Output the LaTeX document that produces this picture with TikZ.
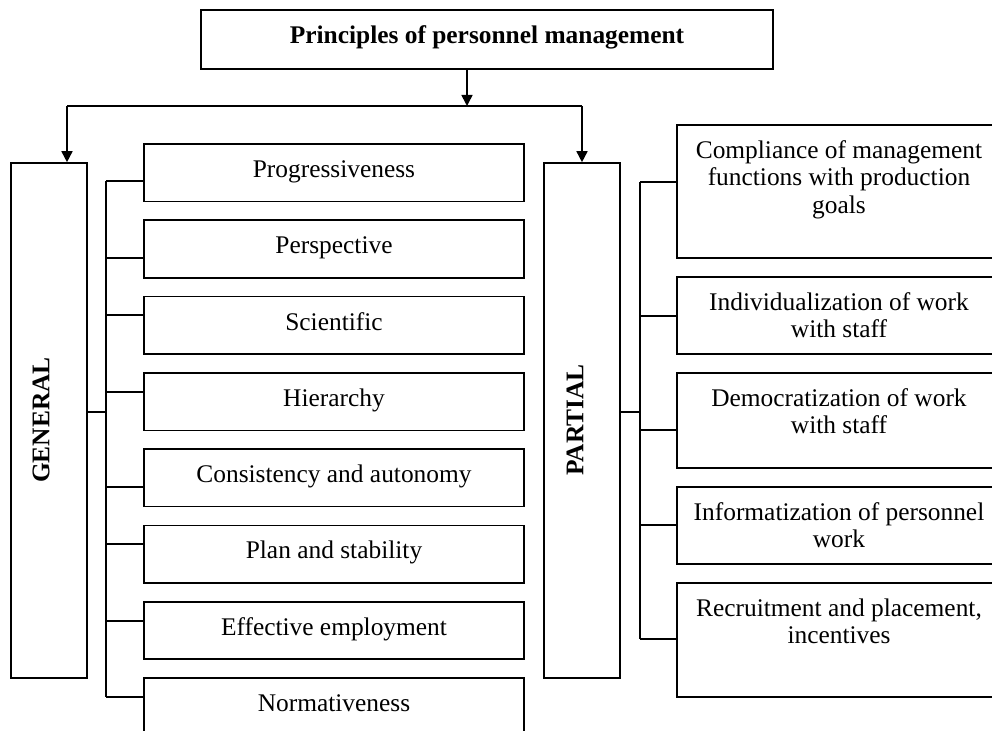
\documentclass[tikz,border=0pt]{standalone}
\usepackage{fontspec}
\setmainfont{Liberation Serif}
\usetikzlibrary{arrows.meta,fit}
\newcommand\fsz{\fontsize{12.7pt}{13.8pt}\selectfont}
\begin{document}
\begin{tikzpicture}[x=0.5pt,y=-0.5pt,
  box/.style={draw, line width=0.8pt, inner sep=0pt},
  lbl/.style={anchor=north, inner sep=0pt, align=center, font=\fsz},
  ln/.style={line width=0.8pt},
  arr/.style={line width=0.8pt, -{Triangle[length=5.5pt,width=5.5pt]}}]
\clip (0,0) rectangle (992,731);
% top
\node[box, fit={(201,10)(773,69)}] (top) {};
\node[font=\fsz\bfseries, anchor=base, inner sep=0pt] (title) at (487,44) {Principles of personnel management};
\coordinate (split) at (467,106);
\coordinate (lsplit) at (67,106);
\coordinate (rsplit) at (582,106);
% category boxes
\node[box, fit={(11,163)(87,678)}] (gen) {};
\node[rotate=90, font=\fsz\bfseries, inner sep=0pt] (gent) at (41,420) {GENERAL};
\node[box, fit={(544,163)(620,678)}] (par) {};
\node[rotate=90, font=\fsz\bfseries, inner sep=0pt] (part) at (575,420) {PARTIAL};
\draw[arr] (split |- top.south) -- (split);
\draw[ln] (lsplit) -- (rsplit);
\draw[arr] (lsplit) -- (lsplit |- gen.north);
\draw[arr] (rsplit) -- (rsplit |- par.north);
% general items
\foreach \i/\s/\t in {0/181/Progressiveness, 1/258/Perspective, 2/315/Scientific, 3/392/Hierarchy, 4/487/Consistency and autonomy, 5/544/Plan and stability, 6/621/Effective employment, 7/697/Normativeness}{
  \pgfmathsetmacro\tp{144+76.3*\i}
  \node[box, fit={(144,\tp)(524,\tp+57.5)}] (l\i) {};
  \node[font=\fsz, anchor=base, inner sep=0pt] (lt\i) at (334,\tp+33.5) {\t};
  \coordinate (lb\i) at (106,\s);
  \draw[ln] (lb\i) -- (lb\i -| l\i.west);
}
\draw[ln] (lb0) -- (lb7);
\coordinate (gj) at (106,412);
\draw[ln] (gen.east |- gj) -- (gj);
% partial items
\foreach \i/\a/\b/\s/\t in {1/125/258/182/{Compliance of management\\functions with production\\goals}, 2/277/354/316/{Individualization of work\\with staff}, 3/373/468/430/{Democratization of work\\with staff}, 4/487/564/525/{Informatization of personnel\\work}, 5/583/697/639/{Recruitment and placement,\\incentives}}{
  \node[box, fit={(677,\a)(1001,\b)}] (r\i) {};
  \node[lbl] (rt\i) at (839,\a+13.5) {\strut\t};
  \coordinate (rb\i) at (640,\s);
  \draw[ln] (rb\i) -- (rb\i -| r\i.west);
}
\draw[ln] (rb1) -- (rb5);
\coordinate (pj) at (640,412);
\draw[ln] (par.east |- pj) -- (pj);
\end{tikzpicture}
\end{document}
